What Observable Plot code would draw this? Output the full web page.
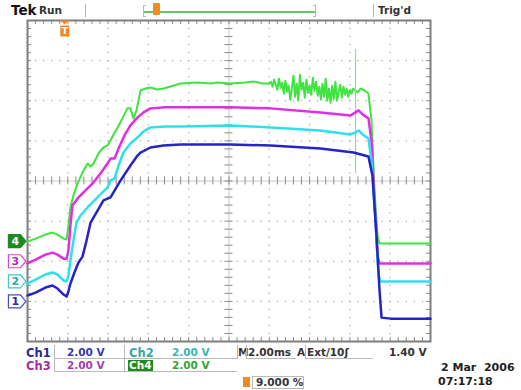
<!DOCTYPE html>
<html><head><meta charset="utf-8">
<script src="https://cdn.jsdelivr.net/npm/d3@7"></script>
<script src="https://cdn.jsdelivr.net/npm/@observablehq/plot@0.6"></script>
<style>
body{margin:0;background:#fff;}
#wrap{position:relative;width:521px;height:390px;overflow:hidden;background:#fff;}
#wrap svg{position:absolute;left:0;top:0;}
.lbl{position:absolute;white-space:pre;font-family:"DejaVu Sans",sans-serif;font-weight:bold;font-size:10.5px;line-height:11px;}
.ln{position:absolute;background:#b8b8b8;}
</style></head><body><div id="wrap"></div>
<script>
// ---- channel settings ----
const chNames = ["1", "2", "3", "4"];
const chColors = ["#2424c8", "#2ee0ea", "#e22ee2", "#3fe43f"];
const chGroundDiv = [-3, -2.5, -2, -1.5];   // ground marker position, divisions from centre
const voltsPerDiv = 2;
const triggerTime = 1.85;                    // ms from left edge

// ---- Ch1 (blue) : time in ms from left edge, volts ----
const ch1T = [0,0.40,0.89,1.24,1.49,1.79,1.94,2.03,2.13,2.33,2.53,2.73,2.93,3.13,3.77,4.12,4.62,5.11,5.46,5.61,6.10,6.75,7.59,10.07,12.06,14.54,16.18,16.92,17.12,17.32,17.47,17.57,18.02,20];
const ch1V = [0.29,0.44,0.69,0.79,0.64,0.34,0.24,0.49,0.89,1.44,1.94,2.23,3.03,3.93,5.03,5.18,6.03,6.77,7.27,7.42,7.67,7.77,7.82,7.82,7.77,7.62,7.42,7.22,6.27,3.28,0.54,-0.81,-0.86,-0.86];

// ---- Ch2 (cyan) ----
const ch2T = [0,0.40,0.89,1.24,1.49,1.79,1.94,2.03,2.13,2.28,2.43,2.63,2.98,3.47,3.97,4.12,4.32,4.52,4.76,5.11,5.46,5.76,6.10,6.85,7.59,10.07,12.06,14.54,16.03,16.28,16.43,16.63,16.92,17.07,17.27,17.42,17.52,20];
const ch2V = [-0.11,0.09,0.34,0.44,0.34,0.04,-0.01,0.29,1.03,2.03,2.93,3.28,3.68,4.18,4.68,5.03,5.13,5.77,6.42,6.87,7.17,7.47,7.67,7.72,7.72,7.77,7.67,7.52,7.32,7.42,7.52,7.32,7.12,6.02,3.03,0.29,-0.01,-0.01];

// ---- Ch3 (magenta) ----
const ch3T = [0,0.40,0.89,1.24,1.49,1.79,1.94,2.03,2.13,2.23,2.53,2.88,3.23,3.62,3.97,4.12,4.32,4.52,4.81,5.11,5.46,5.76,6.10,6.85,7.59,10.07,12.06,14.54,16.03,16.28,16.43,16.63,16.92,17.07,17.22,17.37,17.47,20];
const ch3V = [-0.11,0.08,0.33,0.43,0.33,0.13,0.13,0.53,1.78,2.78,3.18,3.53,3.88,4.37,4.87,5.12,5.12,5.62,6.27,6.77,7.17,7.42,7.62,7.67,7.67,7.67,7.62,7.42,7.27,7.42,7.52,7.32,7.12,6.02,3.03,0.28,-0.11,-0.11];

// ---- Ch4 (green) ----
const ch4T = [0,0.40,0.89,1.24,1.49,1.79,1.94,2.03,2.13,2.28,2.48,2.73,2.98,3.13,3.28,3.52,3.77,3.97,4.12,4.32,4.47,4.71,4.96,5.11,5.26,5.41,5.51,5.61,5.86,6.10,6.45,6.75,7.10,7.59,8.44,9.08,9.43,10.07,10.82,11.22,11.66,12.00,
  12.08,12.16,12.24,12.32,12.40,12.48,12.56,12.64,12.72,12.80,12.88,12.96,13.04,13.12,13.20,13.28,13.36,13.44,13.52,13.60,13.68,13.76,13.84,13.92,14.00,14.08,14.16,14.24,14.32,14.40,
  14.48,14.56,14.64,14.72,14.80,14.88,14.96,15.04,15.12,15.20,15.28,15.36,15.44,15.52,15.60,15.68,15.76,15.84,15.92,16.00,16.08,16.16,
  16.38,16.53,16.73,16.92,17.07,17.22,17.37,17.47,20];
const ch4V = [-0.02,0.13,0.33,0.43,0.33,0.13,0.08,0.78,1.68,2.28,2.87,3.42,3.87,3.72,3.87,4.37,4.67,4.77,5.02,5.42,5.67,6.12,6.62,6.62,6.12,6.52,7.02,7.51,7.61,7.66,7.56,7.61,7.71,7.86,7.91,7.86,7.91,7.86,7.91,7.96,7.86,7.86,
  7.95,7.70,8.05,7.80,7.55,8.10,7.65,7.90,7.35,8.00,7.45,7.75,7.05,7.60,8.25,7.20,7.85,7.00,8.30,7.55,7.90,7.15,8.05,7.40,7.75,7.30,8.15,7.50,7.95,7.25,
  7.70,7.05,7.85,7.20,8.10,7.00,7.60,6.90,7.75,7.10,7.95,7.00,7.45,7.80,7.15,7.70,7.30,7.60,7.20,7.55,7.35,7.60,
  7.42,7.61,7.51,7.36,6.02,2.53,0.28,-0.12,-0.12];
// single glitch on Ch4
const ch4SpikeT = [16.28];
const ch4SpikeV = [[9.56, 3.37]];

// ---- build rows (screen divisions) ----
const toDiv = (v, c) => v / voltsPerDiv + chGroundDiv[c];
const rows = [[ch1T, ch1V], [ch2T, ch2V], [ch3T, ch3V], [ch4T, ch4V]]
  .map(([T, V], c) => T.map((t, i) => ({t, y: toDiv(V[i], c)})));

// graticule
const gridDots = [];
for (let i = 1; i < 10; i++) { if (i === 5) continue; for (let k = 1; k < 40; k++) gridDots.push({x: 2 * i, y: -4 + 0.2 * k}); }
for (const j of [-3, -2, -1, 1, 2, 3]) for (let k = 1; k < 50; k++) gridDots.push({x: 0.4 * k, y: j});
const ticksX = d3.range(1, 50).map(k => 0.4 * k);
const ticksY = d3.range(1, 40).map(k => -4 + 0.2 * k);

const markerSym = {draw(ctx) { ctx.moveTo(-9, -6.5); ctx.lineTo(3, -6.5); ctx.lineTo(8.5, 0); ctx.lineTo(3, 6.5); ctx.lineTo(-9, 6.5); ctx.closePath(); }};
const trigSym = {draw(ctx) {
  ctx.moveTo(-4.5, 0); ctx.lineTo(4.5, 0); ctx.lineTo(0, 4); ctx.closePath();
  ctx.moveTo(-4.5, 5); ctx.lineTo(4.5, 5); ctx.lineTo(4.5, 16); ctx.lineTo(-4.5, 16); ctx.closePath();
}};
const markers = chNames.map((n, c) => ({n, c, y: chGroundDiv[c]}));
const markerFill = ["#ffffff", "#ffffff", "#ffffff", "#1f8a1f"];
const markerStroke = ["#4a4ac8", "#3cc8d0", "#d44ad4", "#1f8a1f"];
const markerText = ["#2c2ca0", "#2aa8b0", "#b030b0", "#ffffff"];

const grey = "#8a8a8a";
const plot = Plot.plot({
  width: 521, height: 390,
  marginLeft: 27, marginRight: 91, marginTop: 20, marginBottom: 49,
  x: {domain: [0, 20], axis: null},
  y: {domain: [-4, 4], axis: null},
  style: {background: "transparent", overflow: "visible"},
  marks: [
    Plot.dot(gridDots, {x: "x", y: "y", r: 0.75, fill: "#aaaaaa"}),
    Plot.ruleY([0], {stroke: "#c8c8c8", strokeWidth: 1}),
    Plot.ruleX([10], {stroke: "#c8c8c8", strokeWidth: 1}),
    Plot.ruleX(ticksX, {x: d => d, y1: -0.1, y2: 0.1, stroke: grey, strokeWidth: 1}),
    Plot.ruleY(ticksY, {y: d => d, x1: 9.8, x2: 10.2, stroke: grey, strokeWidth: 1}),
    Plot.ruleX(ticksX, {x: d => d, y1: 3.9, y2: 4, stroke: grey}),
    Plot.ruleX(ticksX, {x: d => d, y1: -4, y2: -3.9, stroke: grey}),
    Plot.ruleY(ticksY, {y: d => d, x1: 0, x2: 0.2, stroke: grey}),
    Plot.ruleY(ticksY, {y: d => d, x1: 19.8, x2: 20, stroke: grey}),
    Plot.frame({stroke: "#7e7e7e", strokeWidth: 2}),
    Plot.line(rows[3], {x: "t", y: "y", stroke: chColors[3], strokeWidth: 2, strokeLinejoin: "round"}),
    Plot.ruleX(ch4SpikeT.map((t, i) => ({t, a: toDiv(ch4SpikeV[i][0], 3), b: toDiv(ch4SpikeV[i][1], 3)})), {x: "t", y1: "a", y2: "b", stroke: "#7cea7c", strokeWidth: 1.2}),
    Plot.line(rows[2], {x: "t", y: "y", stroke: chColors[2], strokeWidth: 2.5, strokeLinejoin: "round"}),
    Plot.line(rows[1], {x: "t", y: "y", stroke: chColors[1], strokeWidth: 2.5, strokeLinejoin: "round"}),
    Plot.line(rows[0], {x: "t", y: "y", stroke: chColors[0], strokeWidth: 2.5, strokeLinejoin: "round"}),
    Plot.dot(markers, {x: -0.5, y: "y", symbol: markerSym, fill: d => markerFill[d.c], stroke: d => markerStroke[d.c], strokeWidth: 1.2}),
    Plot.text(markers, {x: -0.5, y: "y", text: "n", dx: -2, fill: d => markerText[d.c], fontSize: 11, fontWeight: "bold", fontFamily: "DejaVu Sans"}),
    Plot.dot([triggerTime], {x: d => d, y: 4, symbol: trigSym, fill: "#f08a22", stroke: null}),
    Plot.text([triggerTime], {x: d => d, y: 4, text: () => "T", dy: 11, fill: "#fff", fontSize: 9, fontWeight: "bold", fontFamily: "DejaVu Sans"})
  ]
});
const wrap = document.getElementById("wrap");
wrap.appendChild(plot);

// ---- readout texts ----
const labels = [
  {s: "Tek", x: 11, y: 3, c: "#111", f: 13.5},
  {s: "Run", x: 39, y: 5, c: "#333", f: 10.5},
  {s: "Trig'd", x: 378, y: 5, c: "#333", f: 10.5},
  {s: "Ch1", x: 26, y: 347, c: "#2a2a96", f: 11.5},
  {s: "2.00 V", x: 67, y: 347, c: "#3636b0"},
  {s: "Ch2", x: 129, y: 347, c: "#3aa6aa", f: 11.5},
  {s: "2.00 V", x: 172, y: 347, c: "#3ab4b8"},
  {s: "M", x: 238, y: 347, c: "#333"},
  {s: "2.00ms", x: 248, y: 347, c: "#333"},
  {s: "A", x: 297, y: 347, c: "#333"},
  {s: "Ext/10ʃ", x: 307, y: 347, c: "#333"},
  {s: "1.40 V", x: 389, y: 347, c: "#333"},
  {s: "Ch3", x: 26, y: 360, c: "#a02ea0", f: 11.5},
  {s: "2.00 V", x: 67, y: 360, c: "#a83cb8"},
  {s: "Ch4", x: 129, y: 360, c: "#ffffff", bg: "#1f8a1f"},
  {s: "2.00 V", x: 172, y: 360, c: "#2ea82e"},
  {s: "9.000 %", x: 256, y: 377, c: "#333"},
  {s: "2 Mar  2006", x: 441, y: 362, c: "#222", f: 11},
  {s: "07:17:18", x: 438, y: 376, c: "#222", f: 11}
];
for (const L of labels) {
  const d = document.createElement("div");
  d.className = "lbl"; d.textContent = L.s;
  d.style.left = L.x + "px"; d.style.top = L.y + "px"; d.style.color = L.c;
  if (L.f) { d.style.fontSize = L.f + "px"; d.style.lineHeight = (L.f + 1) + "px"; }
  if (L.bg) { d.style.background = L.bg; d.style.padding = "0 1px"; d.style.marginLeft = "-1px"; }
  wrap.appendChild(d);
}
// thin separators / boxes
const lines = [
  [85, 4, 1, 13], [373, 4, 1, 13],
  [143, 5, 1, 12], [143, 5, 3, 1], [143, 16, 3, 1],
  [315, 5, 1, 12], [313, 5, 3, 1], [313, 16, 3, 1],
  [54, 345, 1, 27], [124, 345, 1, 27], [237, 345, 1, 14],
  [54, 358, 183, 1], [54, 371, 183, 1],
  [246, 345, 1, 13], [246, 358, 50, 1],
  [305, 345, 1, 13], [305, 358, 68, 1],
  [252, 376, 52, 1], [252, 388, 52, 1], [252, 376, 1, 12], [303, 376, 1, 12]
];
for (const [x, y, w, h] of lines) {
  const d = document.createElement("div"); d.className = "ln";
  Object.assign(d.style, {left: x + "px", top: y + "px", width: w + "px", height: h + "px"});
  wrap.appendChild(d);
}
// record bar (green) and its trigger flag
const bar = document.createElement("div"); bar.className = "ln";
Object.assign(bar.style, {left: "144px", top: "11px", width: "171px", height: "1.5px", background: "#6cc46c"});
wrap.appendChild(bar);
const flag = document.createElement("div");
Object.assign(flag.style, {position: "absolute", left: "153px", top: "3px", width: "7px", height: "12px", background: "#f08a22", borderRadius: "1px"});
wrap.appendChild(flag);
const icon = document.createElement("div");
Object.assign(icon.style, {position: "absolute", left: "243px", top: "377px", width: "7px", height: "10px", background: "#f08a22"});
wrap.appendChild(icon);
</script>
</body></html>
